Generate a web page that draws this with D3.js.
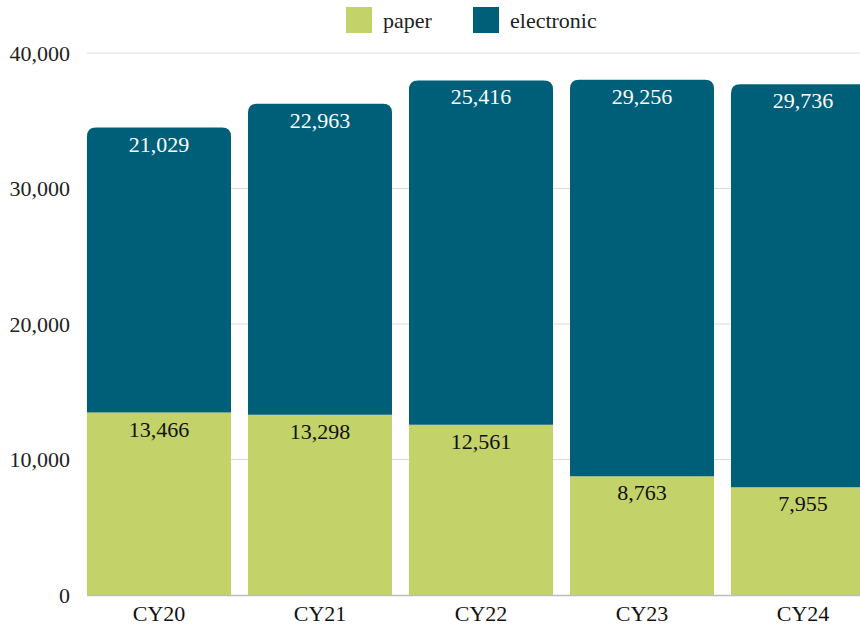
<!DOCTYPE html>
<html><head><meta charset="utf-8">
<script src="https://cdn.jsdelivr.net/npm/d3@7"></script>
<style>
body{margin:0;background:#fff;}
svg{display:block;font-family:"Liberation Serif","DejaVu Serif",serif;}
</style></head>
<body><svg id="c" width="860" height="628"></svg>
<script>
const categories = ["CY20","CY21","CY22","CY23","CY24"];
const paper = [13466,13298,12561,8763,7955];
const electronic = [21029,22963,25416,29256,29736];
const yTicks = [0,10000,20000,30000,40000];
const seriesNames = ["paper","electronic"];
const colors = {paper:"#c3d269", electronic:"#005f78"};

const svg = d3.select("#c");
const fs = 22;
const x = d3.scaleBand().domain(categories).range([87,875]).paddingInner(17/161).paddingOuter(0);
const y = d3.scaleLinear().domain([0,40000]).range([595,53]);

// gridlines
svg.append("g").selectAll("line").data(yTicks.filter(d=>d>0)).join("line")
  .attr("x1",87).attr("x2",860).attr("y1",d=>y(d)).attr("y2",d=>y(d))
  .attr("stroke","#dcdcdc").attr("stroke-width",1);

// y labels
svg.append("g").selectAll("text").data(yTicks).join("text")
  .attr("x",70).attr("y",d=>y(d)).attr("dy","0.35em").attr("text-anchor","end")
  .attr("font-size",fs).attr("fill","#222").text(d=>d3.format(",")(d));

const rows = categories.map((c,i)=>({c,paper:paper[i],electronic:electronic[i]}));
const stack = d3.stack().keys(seriesNames)(rows);

function topRounded(x0,y0,w,h,r){
  r=Math.min(r,h,w/2);
  return `M${x0},${y0+h}V${y0+r}Q${x0},${y0} ${x0+r},${y0}H${x0+w-r}Q${x0+w},${y0} ${x0+w},${y0+r}V${y0+h}Z`;
}

stack.forEach(s=>{
  const g = svg.append("g");
  g.selectAll("path").data(s).join("path")
    .attr("fill",colors[s.key])
    .attr("d",d=>{
      const x0=x(d.data.c), w=x.bandwidth(), yt=y(d[1]), h=y(d[0])-y(d[1]);
      return s.key==="electronic" ? topRounded(x0,yt,w,h,9) : `M${x0},${yt}h${w}v${h}h${-w}Z`;
    });
  g.selectAll("text").data(s).join("text")
    .attr("x",d=>x(d.data.c)+x.bandwidth()/2).attr("y",d=>y(d[1])+24)
    .attr("text-anchor","middle").attr("font-size",fs)
    .attr("fill",s.key==="electronic"?"#ffffff":"#111")
    .text(d=>d3.format(",")(d.data[s.key]));
});

// baseline
svg.append("line").attr("x1",87).attr("x2",860).attr("y1",y(0)+0.5).attr("y2",y(0)+0.5)
  .attr("stroke","#bdbdbd").attr("stroke-width",1.5);

// x labels
svg.append("g").selectAll("text").data(categories).join("text")
  .attr("x",d=>x(d)+x.bandwidth()/2).attr("y",621).attr("text-anchor","middle")
  .attr("font-size",fs).attr("fill","#111").text(d=>d);

// legend
const leg = [{k:"paper",x:346},{k:"electronic",x:473}];
const lg = svg.append("g").selectAll("g").data(leg).join("g");
lg.append("rect").attr("x",d=>d.x).attr("y",7).attr("width",26).attr("height",26).attr("fill",d=>colors[d.k]);
lg.append("text").attr("x",d=>d.x+37).attr("y",20).attr("dy","0.35em").attr("font-size",fs).attr("fill","#222").text(d=>d.k);
</script></body></html>
